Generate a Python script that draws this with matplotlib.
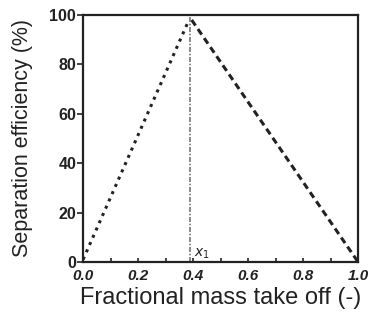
import numpy as np
import matplotlib
matplotlib.use("Agg")
import matplotlib.pyplot as plt

plt.rcParams['font.family'] = ['Liberation Sans', 'DejaVu Sans']

# data
rise_x = [0.0, 0.385]
rise_y = [1.0, 98.0]
fall_x = [0.395, 1.0]
fall_y = [98.0, 0.0]
x1 = 0.39
x_ticks = [0.0, 0.2, 0.4, 0.6, 0.8, 1.0]
x_minor = [0.1, 0.3, 0.5, 0.7, 0.9]
y_ticks = [0, 20, 40, 60, 80, 100]

fig = plt.figure(figsize=(3.71, 3.27), dpi=100)
ax = fig.add_axes([0.224, 0.199, 0.741, 0.755])

ax.plot(rise_x, rise_y, color='#222222', lw=2.2, linestyle=(0, (1, 1.6)))
ax.plot(fall_x, fall_y, color='#222222', lw=2.2, linestyle=(0, (2.2, 1.4)))
ax.axvline(x1, color='#777777', lw=1.2, linestyle=(0, (3, 1, 1, 1)))
ax.text(x1 + 0.012, 2, r'$x_1$', fontsize=10, color='#222222')

ax.set_xlim(0, 1.0)
ax.set_ylim(0, 100)
ax.set_xticks(x_ticks)
ax.set_xticks(x_minor, minor=True)
ax.set_yticks(y_ticks)
ax.set_xticklabels(['%.1f' % v for v in x_ticks], fontstyle='italic',
                   fontweight='bold', fontsize=11)
ax.set_yticklabels([str(v) for v in y_ticks], fontweight='bold', fontsize=11.5)
ax.tick_params(axis='x', which='both', direction='in', length=3, width=1.2,
               pad=5, colors='#222222')
ax.tick_params(axis='y', direction='out', length=4, width=1.2, pad=1,
               colors='#222222')
for s in ax.spines.values():
    s.set_linewidth(1.6)
    s.set_color('#222222')

ax.set_xlabel('Fractional mass take off (-)', fontsize=17, labelpad=3,
              color='#222222')
ax.set_ylabel('Separation efficiency (%)', fontsize=15.5, labelpad=12,
              color='#222222')

fig.savefig('out.png', dpi=100)
